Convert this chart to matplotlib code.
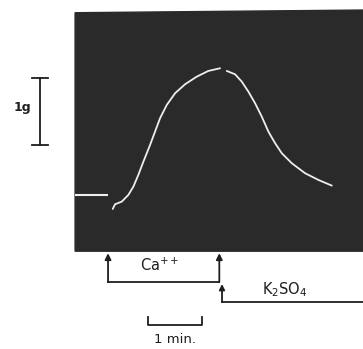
import numpy as np
import matplotlib.pyplot as plt

# temps en minutes (0 = ajout de Ca++), tension en grammes (0 = ligne de base)
t_base = [-0.61, 0.0]
g_base = [0.0, 0.0]
t_ca = [0.087, 0.130, 0.254, 0.376, 0.469, 0.561, 0.654, 0.778, 0.870, 0.963,
        1.087, 1.241, 1.426, 1.643, 1.857, 2.074]
g_ca = [-0.209, -0.139, -0.100, 0.0, 0.124, 0.299, 0.496, 0.746, 0.945, 1.145,
        1.343, 1.518, 1.652, 1.766, 1.851, 1.891]
t_k = [2.198, 2.352, 2.476, 2.598, 2.722, 2.846, 2.969, 3.093, 3.217, 3.402,
       3.648, 3.894, 4.143]
g_k = [1.851, 1.801, 1.691, 1.542, 1.369, 1.169, 0.945, 0.772, 0.622, 0.473,
       0.324, 0.224, 0.139]
t_ajout_ca = 0.0
t_fin_ca = 2.06
t_k2so4 = 2.11

fig = plt.figure(figsize=(3.63, 3.49), dpi=100)
ax = fig.add_axes([0, 0, 1, 1])
ax.set_xlim(-2.0, 4.72)
ax.set_ylim(-2.30, 2.91)
ax.axis('off')

# fond sombre de l'enregistrement
ax.fill([-0.61, 4.72, 4.72, -0.61], [-0.84, -0.84, 2.76, 2.72], color='#2a2a2a', zorder=0)

# trace
ax.plot(t_base, g_base, color='#eeeeee', lw=1.5, solid_capstyle='butt')
ax.plot(t_ca, g_ca, color='#eeeeee', lw=1.3, solid_capstyle='round')
ax.plot(t_k, g_k, color='#eeeeee', lw=1.3, solid_capstyle='round')

enc = '#1e1e1e'
# echelle 1 g
ax.plot([-1.26, -1.26], [0.75, 1.75], color=enc, lw=1.3)
ax.plot([-1.40, -1.12], [1.75, 1.75], color=enc, lw=1.3)
ax.plot([-1.40, -1.12], [0.75, 0.75], color=enc, lw=1.3)
ax.text(-1.59, 1.30, '1g', fontsize=9, ha='center', va='center', color=enc, fontweight='bold')

# fleches Ca++
for t in [t_ajout_ca, t_fin_ca]:
    ax.annotate('', xy=(t, -0.87), xytext=(t, -1.30),
                arrowprops=dict(arrowstyle='-|>', color=enc, lw=1.3,
                                mutation_scale=9, shrinkA=0, shrinkB=0))
ax.plot([t_ajout_ca, t_fin_ca], [-1.30, -1.30], color=enc, lw=1.3)
ax.text(0.96, -1.05, 'Ca$^{++}$', fontsize=10.5, ha='center', va='center', color=enc)

# fleche K2SO4
ax.annotate('', xy=(t_k2so4, -1.33), xytext=(t_k2so4, -1.60),
            arrowprops=dict(arrowstyle='-|>', color=enc, lw=1.3,
                            mutation_scale=8, shrinkA=0, shrinkB=0))
ax.plot([t_k2so4, 4.72], [-1.60, -1.60], color=enc, lw=1.3)
ax.text(3.28, -1.42, 'K$_2$SO$_4$', fontsize=10.5, ha='center', va='center', color=enc)

# echelle 1 min
ax.plot([0.74, 0.74, 1.74, 1.74], [-1.82, -1.94, -1.94, -1.82], color=enc, lw=1.3)
ax.text(1.24, -2.16, '1 min.', fontsize=9.5, ha='center', va='center', color=enc)

plt.savefig('out.png', dpi=100)
